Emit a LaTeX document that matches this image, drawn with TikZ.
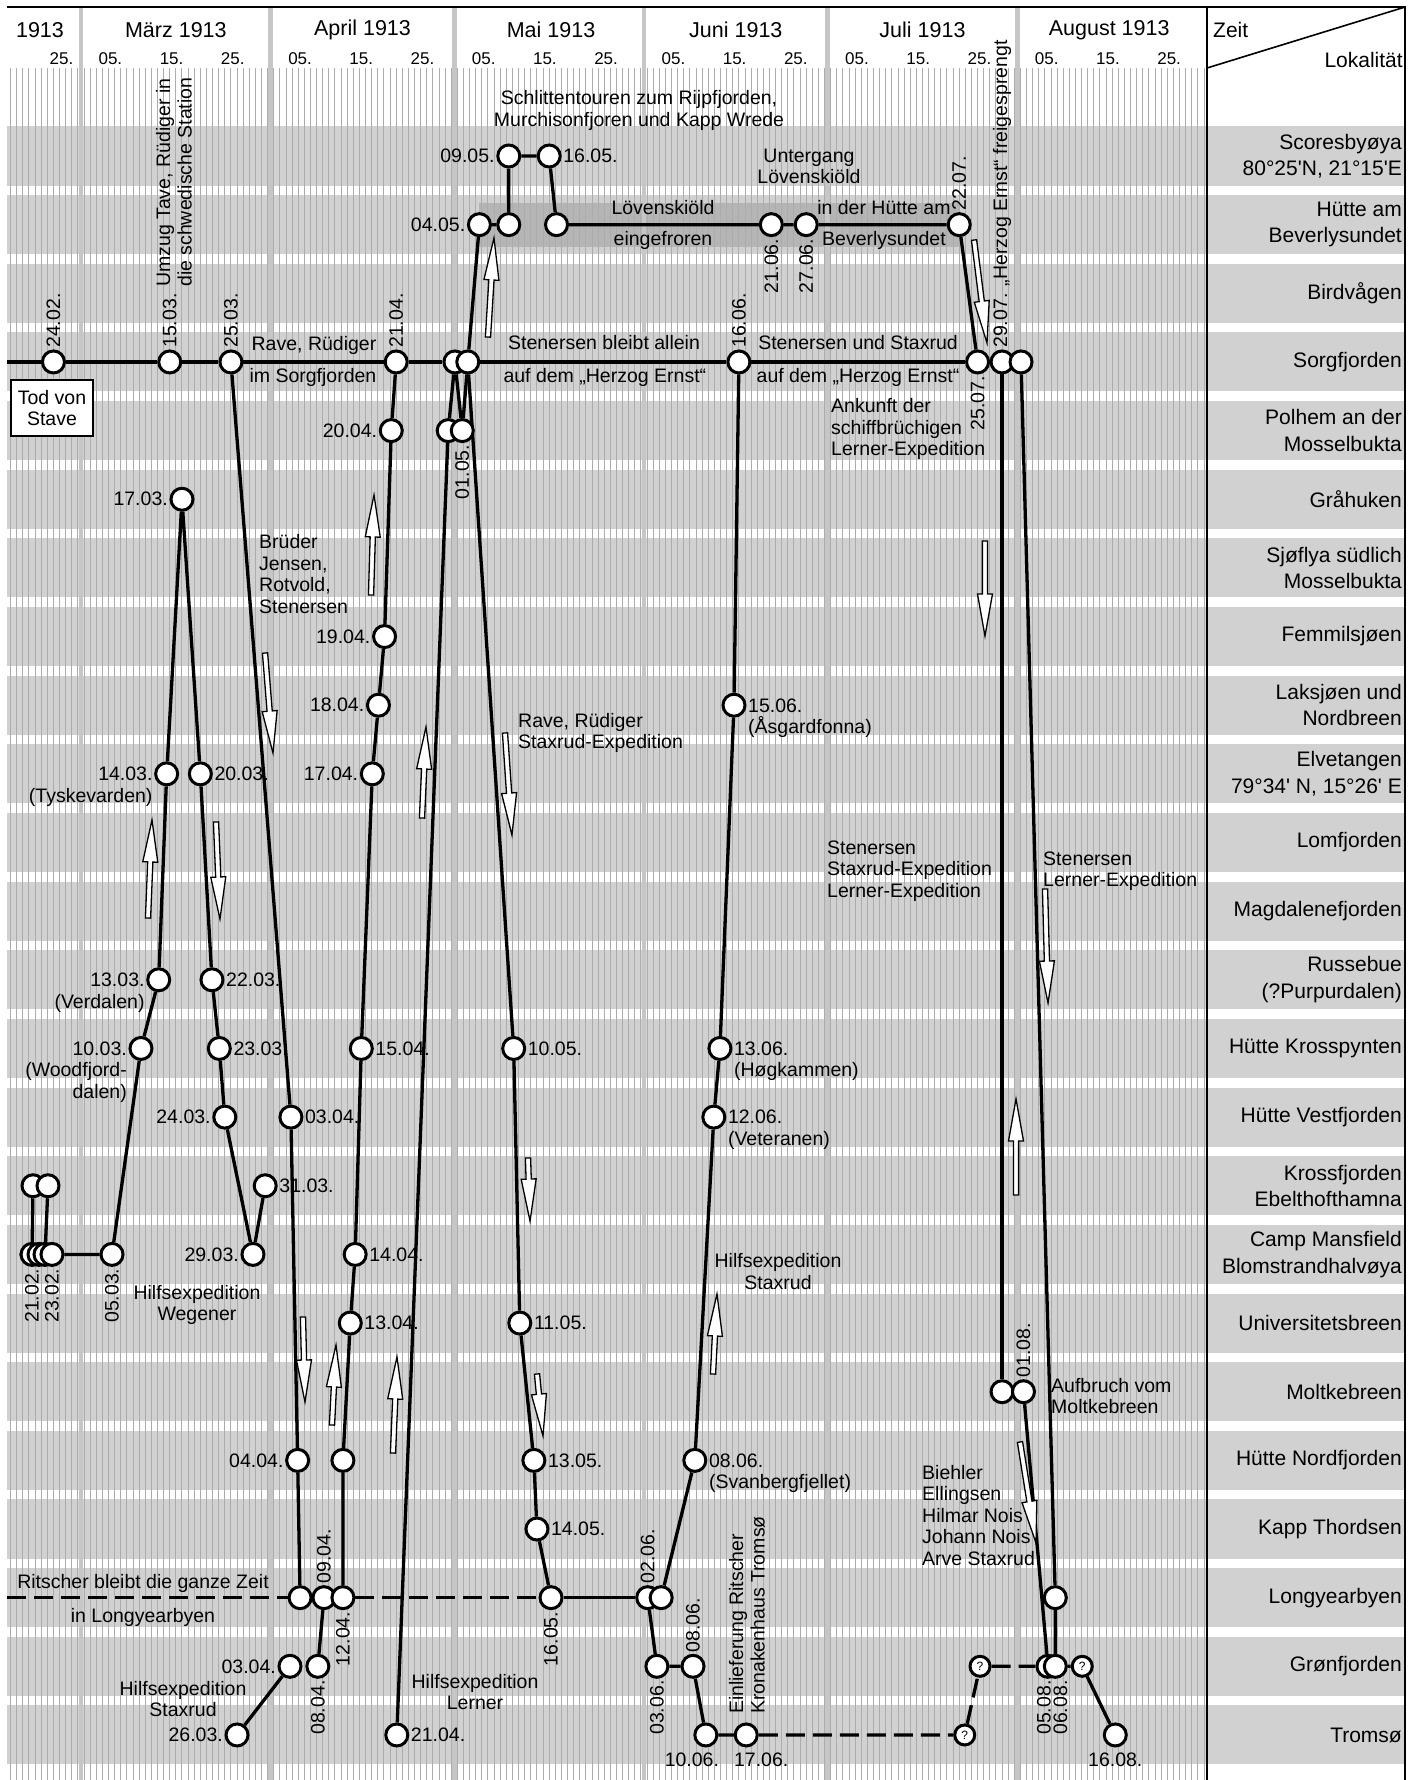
\documentclass[tikz,border=0pt]{standalone}
\usepackage{fontspec}
\setmainfont{Liberation Sans}
\newfontfamily\plainfam{Liberation Sans}
\usetikzlibrary{calc, positioning}

\newcommand\chartfont{\fontsize{19.5}{21.5}\selectfont}
\newcommand\placefont{\fontsize{21}{26.5}\selectfont}
\newcommand\monthfont{\fontsize{21.5}{24}\selectfont}
\newcommand\dayfont{\fontsize{17}{19}\selectfont}
\newcommand\qfont{\fontsize{12}{12}\selectfont}
\newcommand\straightquote{{\plainfam'}}

% date d.m sits at x = month offset + d (one unit = one day, one row = one place)
\newcommand\mFeb{-28.5}
\newcommand\mMar{-0.5}
\newcommand\mApr{30.5}
\newcommand\mMay{60.5}
\newcommand\mJun{91.5}
\newcommand\mJul{121.5}
\newcommand\mAug{152.5}

\pgfdeclarelayer{back}
\pgfdeclarelayer{routes}
\pgfsetlayers{back,routes,main}

\tikzset{
    band/.style={fill=gray!36},
    frozen/.style={fill=gray!58},
    dayline/.style={draw=gray!65, line width=1pt},
    monthline/.style={draw=gray!45, line width=4.5pt},
    frame/.style={draw=black, line width=2.4pt},
    route/.style={line width=3.3pt, line join=round},
    dashroute/.style={route, dash pattern=on 19pt off 8pt},
    stop/.style={circle, draw=black, line width=3pt, fill=white, minimum size=22pt, inner sep=0pt},
    qstop/.style={stop, minimum size=20pt, font=\qfont},
    note/.style={font=\chartfont, inner sep=1pt, align=center},
    place/.style={font=\placefont, align=right, anchor=east, inner sep=0pt},
    monthlbl/.style={font=\monthfont, inner sep=0pt},
    daylbl/.style={font=\dayfont, inner sep=0pt},
    stavebox/.style={draw=black, line width=2pt, fill=white, font=\chartfont, align=center, inner xsep=6.5pt, inner ysep=10pt},
    arrowshape/.style={draw=black, line width=1.3pt, fill=white, line join=miter},
    every label/.style={font=\chartfont, inner sep=1.5pt},
    dateleft/.style={label=left:#1},
    dateright/.style={label=right:#1},
    dateup/.style={label={[rotate=90,anchor=west]above:#1}},
    datedown/.style={label={[rotate=90,anchor=east]below:#1}},
    noteleft/.style={label={[align=right,anchor=north east,yshift=8.5pt]left:#1}},
    noteright/.style={label={[align=left,anchor=north west,yshift=8.5pt]right:#1}}
}

% hollow direction arrow from #1 (tail) to #2 (tip)
\newcommand\hollowarrow[2]{%
    \coordinate (ha-t) at #1;
    \coordinate (ha-h) at #2;
    \coordinate (ha-n) at ($(ha-h)!42pt!(ha-t)$);
    \draw[arrowshape] ($(ha-t)!2.6pt!90:(ha-h)$) -- ($(ha-n)!2.6pt!90:(ha-h)$)
        -- ($(ha-n)!7.5pt!90:(ha-h)$) -- (ha-h) -- ($(ha-n)!7.5pt!-90:(ha-h)$)
        -- ($(ha-n)!2.6pt!-90:(ha-h)$) -- ($(ha-t)!2.6pt!-90:(ha-h)$) -- cycle;
}

\begin{document}
\begin{tikzpicture}[x=6.12pt, y=-68.65pt]
    \useasboundingbox (-13.235,-2.2724) rectangle (218.137,23.6562);

    \begin{pgfonlayer}{back}
        % Rows
        \foreach \r in {0,...,23}
            \fill[band] (-12.09,\r-0.43) rectangle (216.34,\r+0.43);
        % Lövenskiöld frozen in
        \fill[frozen] (65,0.685) rectangle (143.5,1.326);
        % Days
        \foreach \k in {-12,...,183}
            \draw[dayline] (\k+0.5,-1.282) -- (\k+0.5,23.656);
        % Months
        \foreach \m in {0,31,61,92,122,153}
            \draw[monthline] (\m,-2.17) -- (\m,23.656);
        % Frame
        \draw[frame] (-12.09,-2.17) -- (216.34,-2.17) -- (216.34,23.656);
        \draw[frame, line width=1.6pt] (184,-2.17) -- (184,23.656);
        \draw[line width=1.6pt] (184,-1.282) -- (216.34,-2.17);
    \end{pgfonlayer}

    % Header
    \node[monthlbl] at (-6.7,-1.835) {1913};
    \node[monthlbl] at (15.5,-1.835) {März 1913};
    \node[monthlbl] at (46,-1.835) {April 1913};
    \node[monthlbl] at (76.8,-1.835) {Mai 1913};
    \node[monthlbl] at (107,-1.835) {Juni 1913};
    \node[monthlbl] at (137.5,-1.835) {Juli 1913};
    \node[monthlbl] at (168,-1.835) {August 1913};
    \node[daylbl] at (-3.2,-1.413) {25.};
    \foreach \m in {\mMar,\mApr,\mMay,\mJun,\mJul,\mAug}
        \foreach \d/\t in {5/05,15/15,25/25}
            \node[daylbl] at ({\m+\d+0.3},-1.413) {\t.};
    \node[place, anchor=west] at (184.97,-1.835) {Zeit};
    \node[place] at (216,-1.398) {Lokalität};

    % Places
    \node[place] at (215.85,0) {Scoresbyøya\\80°25\straightquote N, 21°15\straightquote E};
    \node[place] at (215.85,1) {Hütte am\\Beverlysundet};
    \node[place] at (215.85,2) {Birdvågen};
    \node[place] at (215.85,3) {Sorgfjorden};
    \node[place] at (215.85,4) {Polhem an der\\Mosselbukta};
    \node[place] at (215.85,5) {Gråhuken};
    \node[place] at (215.85,6) {Sjøflya südlich\\Mosselbukta};
    \node[place] at (215.85,7) {Femmilsjøen};
    \node[place] at (215.85,8) {Laksjøen und\\Nordbreen};
    \node[place] at (215.85,9) {Elvetangen\\79°34\straightquote{} N, 15°26\straightquote{} E};
    \node[place] at (215.85,10) {Lomfjorden};
    \node[place] at (215.85,11) {Magdalenefjorden};
    \node[place] at (215.85,12) {Russebue\\(?Purpurdalen)};
    \node[place] at (215.85,13) {Hütte Krosspynten};
    \node[place] at (215.85,14) {Hütte Vestfjorden};
    \node[place] at (215.85,15) {Krossfjorden\\Ebelthofthamna};
    \node[place] at (215.85,16) {Camp Mansfield\\Blomstrandhalvøya};
    \node[place] at (215.85,17) {Universitetsbreen};
    \node[place] at (215.85,18) {Moltkebreen};
    \node[place] at (215.85,19) {Hütte Nordfjorden};
    \node[place] at (215.85,20) {Kapp Thordsen};
    \node[place] at (215.85,21) {Longyearbyen};
    \node[place] at (215.85,22) {Grønfjorden};
    \node[place] at (215.85,23) {Tromsø};

    % Scoresbyøya
    \node[stop, dateleft=09.05.] (sco0905) at (69.9,0) {};
    \node[stop, dateright=16.05.] (sco1605) at ({\mMay+16},0) {};
    % Hütte am Beverlysundet
    \node[stop, dateleft=04.05.] (bev0405) at (65.1,1) {};
    \node[stop] (bev0905) at (69.9,1) {};
    \node[stop] (bev1705) at (77.7,1) {};
    \node[stop, datedown=21.06.] (bev2106) at (112.8,1) {};
    \node[stop, datedown=27.06.] (bev2706) at ({\mJun+27},1) {};
    \node[stop, dateup=22.07.] (bev2207) at ({\mJul+22},1) {};
    % Sorgfjorden
    \coordinate (sorgstart) at (-12.09,3);
    \node[stop, dateup=24.02.] (sorg2402) at ({\mFeb+24},3) {};
    \node[stop, dateup=15.03.] (sorg1503) at ({\mMar+15},3) {};
    \node[stop, dateup=25.03.] (sorg2503) at ({\mMar+25},3) {};
    \node[stop, dateup=21.04.] (sorg2104) at ({\mApr+21},3) {};
    \node[stop] (sorgA) at (61.1,3) {};
    \node[stop] (sorgB) at (63.2,3) {};
    \node[stop, dateup=16.06.] (sorg1606) at ({\mJun+16},3) {};
    \node[stop, datedown=25.07.] (sorg2507) at ({\mJul+25},3) {};
    \node[stop, dateup={29.07. „Herzog Ernst“ freigesprengt}] (sorg2907) at ({\mJul+29},3) {};
    \node[stop] (sorg0108) at (153.6,3) {};
    % Polhem
    \node[stop, dateleft=20.04.] (pol2004) at (50.7,4) {};
    \node[stop] (polA) at (60.0,4) {};
    \node[stop, datedown=01.05.] (polB) at (62.3,4) {};
    % Gråhuken
    \node[stop, dateleft=17.03.] (gra1703) at ({\mMar+17},5) {};
    % Femmilsjøen
    \node[stop, dateleft=19.04.] (fem1904) at (49.6,7) {};
    % Laksjøen
    \node[stop, dateleft=18.04.] (lak1804) at (48.6,8) {};
    \node[stop, noteright={15.06.\\(Åsgardfonna)}] (lak1506) at (106.7,8) {};
    % Elvetangen
    \node[stop, noteleft={14.03.\\(Tyskevarden)}] (elv1403) at (14.0,9) {};
    \node[stop, dateright=20.03.] (elv2003) at ({\mMar+20},9) {};
    \node[stop, dateleft=17.04.] (elv1704) at (47.6,9) {};
    % Russebue
    \node[stop, noteleft={13.03.\\(Verdalen)}] (russ1303) at (12.7,12) {};
    \node[stop, dateright=22.03.] (russ2203) at (21.4,12) {};
    % Hütte Krosspynten
    \node[stop, noteleft={10.03.\\(Woodfjord-\\dalen)}] (kros1003) at (9.8,13) {};
    \node[stop, dateright=23.03.] (kros2303) at (22.6,13) {};
    \node[stop, dateright=15.04.] (kros1504) at (45.8,13) {};
    \node[stop, dateright=10.05.] (kros1005) at (70.7,13) {};
    \node[stop, noteright={13.06.\\(Høgkammen)}] (kros1306) at (104.4,13) {};
    % Hütte Vestfjorden
    \node[stop, dateleft=24.03.] (vest2403) at (23.5,14) {};
    \node[stop, dateright=03.04.] (vest0304) at (34.3,14) {};
    \node[stop, noteright={12.06.\\(Veteranen)}] (vest1206) at (103.4,14) {};
    % Krossfjorden
    \node[stop] (ebelA) at (-7.84,15) {};
    \node[stop] (ebelB) at (-5.39,15) {};
    \node[stop, dateright=31.03.] (ebel3103) at (30.1,15) {};
    % Camp Mansfield
    \node[stop, datedown=21.02.] (mansA) at (-8.0,16) {};
    \node[stop] (mansB) at (-6.86,16) {};
    \node[stop] (mansC) at (-5.88,16) {};
    \node[stop, datedown=23.02.] (mansD) at (-4.74,16) {};
    \node[stop, datedown=05.03.] (mans0503) at (5.07,16) {};
    \node[stop, dateleft=29.03.] (mans2903) at (28.1,16) {};
    \node[stop, dateright=14.04.] (mans1404) at (44.8,16) {};
    % Universitetsbreen
    \node[stop, dateright=13.04.] (univ1304) at (44.0,17) {};
    \node[stop, dateright=11.05.] (univ1105) at (71.7,17) {};
    % Moltkebreen
    \node[stop] (moltA) at ({\mJul+29},18) {};
    \node[stop, dateup=01.08.] (moltB) at (154.0,18) {};
    % Hütte Nordfjorden
    \node[stop, dateleft=04.04.] (nord0404) at (35.4,19) {};
    \node[stop] (nord1204) at (42.8,19) {};
    \node[stop, dateright=13.05.] (nord1305) at (74.0,19) {};
    \node[stop, noteright={08.06.\\(Svanbergfjellet)}] (nord0806) at (100.3,19) {};
    % Kapp Thordsen
    \node[stop, dateright=14.05.] (kapp1405) at ({\mMay+14},20) {};
    % Longyearbyen
    \coordinate (longstart) at (-12.09,21);
    \node[stop] (long0504) at (35.8,21) {};
    \node[stop, dateup=09.04.] (long0904) at (39.7,21) {};
    \node[stop, datedown=12.04.] (long1204) at (42.8,21) {};
    \node[stop, datedown=16.05.] (long1605) at (76.8,21) {};
    \node[stop, dateup=02.06.] (longA) at (92.6,21) {};
    \node[stop] (longB) at (94.8,21) {};
    \node[stop] (long0608) at (159.2,21) {};
    % Grønfjorden
    \node[stop, dateleft=03.04.] (gron0304) at (34.15,22) {};
    \node[stop, datedown=08.04.] (gron0804) at (38.7,22) {};
    \node[stop, datedown=03.06.] (gron0306) at (94.1,22) {};
    \node[stop, dateup=08.06.] (gron0806) at (100.0,22) {};
    \node[qstop] (gronQa) at (146.9,22) {?};
    \node[stop, label={[xshift=-4pt,rotate=90,anchor=east]below:05.08.}] (gron0508) at (158.0,22) {};
    \node[stop, label={[xshift=5pt,rotate=90,anchor=east]below:06.08.}] (gron0608) at (159.2,22) {};
    \node[qstop] (gronQb) at (163.6,22) {?};
    % Tromsø
    \node[stop, dateleft=26.03.] (trom2603) at ({\mMar+26},23) {};
    \node[stop, dateright=21.04.] (trom2104) at (51.6,23) {};
    \node[stop, label={[xshift=-14pt,yshift=-4pt]below:10.06.}] (trom1006) at (102.1,23) {};
    \node[stop, label={[xshift=15pt,yshift=-4pt]below:17.06.}] (trom1706) at (108.7,23) {};
    \node[qstop] (tromQ) at (144.4,23) {?};
    \node[stop, label={[yshift=-4pt]below:16.08.}] (trom1608) at (169.0,23) {};

    \begin{pgfonlayer}{routes}
        % Sorgfjorden and Longyearbyen
        \draw[route] (sorgstart) -- (sorg2402) -- (sorg1503) -- (sorg2503) -- (sorg2104) -- (sorgA) -- (sorgB)
            -- (sorg1606) -- (sorg2507) -- (sorg2907) -- (sorg0108);
        \draw[dashroute] (longstart) -- (long0504);
        \draw[dashroute] (long1204) -- (long1605);
        \draw[route] (long1605) -- (longA);
        % Hilfsexpedition Wegener
        \draw[route] (ebelA) -- (mansA);
        \draw[route] (ebelB) -- (mansC);
        \draw[route] (mansA) -- (mansB) -- (mansC) -- (mansD) -- (mans0503) -- (kros1003) -- (russ1303) -- (elv1403)
            -- (gra1703) -- (elv2003) -- (russ2203) -- (kros2303) -- (vest2403) -- (mans2903) -- (ebel3103);
        % Rave, Rüdiger south
        \draw[route] (sorg2503) -- (vest0304) -- (nord0404) -- (long0504);
        % Hilfsexpedition Staxrud
        \draw[route] (trom2603) -- (gron0304);
        \draw[route] (gron0804) -- (long0904);
        % Brüder Jensen, Rotvold, Stenersen
        \draw[route] (long1204) -- (nord1204) -- (univ1304) -- (mans1404) -- (kros1504) -- (elv1704) -- (lak1804)
            -- (fem1904) -- (pol2004) -- (sorg2104);
        % Hilfsexpedition Lerner
        \draw[route] (trom2104) -- (polA) -- (sorgA) -- (polB) -- (sorgB) -- (bev0405) -- (bev0905) -- (sco0905)
            -- (sco1605) -- (bev1705) -- (bev2106) -- (bev2706) -- (bev2207) -- (sorg2507);
        % Rave, Rüdiger, Staxrud-Expedition
        \draw[route] (sorgB) -- (kros1005) -- (univ1105) -- (nord1305) -- (kapp1405) -- (long1605);
        % Staxrud north
        \draw[route] (longB) -- (nord0806) -- (vest1206) -- (kros1306) -- (lak1506) -- (sorg1606);
        % Ritscher to Tromsø
        \draw[route] (longA) -- (gron0306) -- (gron0806) -- (trom1006);
        \draw[dashroute] (trom1006) -- (trom1706) -- (tromQ) -- (gronQa) -- (gron0508);
        % Herzog Ernst and Lerner-Expedition south
        \draw[route] (sorg2907) -- (moltA);
        \draw[route] (moltB) -- (gron0508);
        \draw[route] (sorg0108) -- (long0608) -- (gron0608) -- (gronQb) -- (trom1608);
    \end{pgfonlayer}

    % Notes
    \node[note] at (91.18,-0.663) {Schlittentouren zum Rijpfjorden,\\Murchisonfjoren und Kapp Wrede};
    \node[note] at (118.95,0.153) {Untergang\\Lövenskiöld};
    \node[note] at (95.1,0.757) {Lövenskiöld};
    \node[note] at (95.1,1.224) {eingefroren};
    \node[note] at (131.2,0.757) {in der Hütte am};
    \node[note] at (131.2,1.224) {Beverlysundet};
    \node[note, rotate=90, anchor=west, align=left] at (15.2,1.923) {Umzug Tave, Rüdiger in\\die schwedische Station};
    \node[note] at (38.07,2.753) {Rave, Rüdiger};
    \node[note] at (37.9,3.219) {im Sorgfjorden};
    \node[note] at (85.46,2.724) {Stenersen bleibt allein};
    \node[note] at (85.6,3.219) {auf dem „Herzog Ernst“};
    \node[note] at (126.96,2.724) {Stenersen und Staxrud};
    \node[note] at (126.96,3.219) {auf dem „Herzog Ernst“};
    \node[stavebox] (stave) at (-4.74,3.671) {Tod von\\Stave};
    \node[note, align=left, anchor=west] at (122.39,3.977) {Ankunft der\\schiffbrüchigen\\Lerner-Expedition};
    \node[note, align=left, anchor=west] at (28.92,6.089) {Brüder\\Jensen,\\Rotvold,\\Stenersen};
    \node[note, align=left, anchor=west] at (71.24,8.405) {Rave, Rüdiger\\Staxrud-Expedition};
    \node[note, align=left, anchor=west] at (121.73,10.415) {Stenersen\\Staxrud-Expedition\\Lerner-Expedition};
    \node[note, align=left, anchor=west] at (157.03,10.42) {Stenersen\\Lerner-Expedition};
    \node[note] at (18.95,16.737) {Hilfsexpedition\\Wegener};
    \node[note] at (113.89,16.249) {Hilfsexpedition\\Staxrud};
    \node[note, align=left, anchor=west] at (158.33,18.063) {Aufbruch vom\\Moltkebreen};
    \node[note, align=left, anchor=west] at (137.25,19.803) {Biehler\\Ellingsen\\Hilmar Nois\\Johann Nois\\Arve Staxrud};
    \node[note] at (10.13,20.787) {Ritscher bleibt die ganze Zeit};
    \node[note] at (10.13,21.282) {in Longyearbyen};
    \node[note] at (16.67,22.477) {Hilfsexpedition\\Staxrud};
    \node[note] at (64.38,22.375) {Hilfsexpedition\\Lerner};
    \node[note, rotate=90, anchor=west, align=left] at (108.82,22.71) {Einlieferung Ritscher\\Kronakenhaus Tromsø};

    % Direction arrows
    \hollowarrow{(10.95,11.10)}{(11.60,9.672)}
    \hollowarrow{(22.06,9.701)}{(22.71,11.114)}
    \hollowarrow{(30.07,7.24)}{(31.37,8.696)}
    \hollowarrow{(47.39,6.395)}{(47.88,4.938)}
    \hollowarrow{(55.72,9.643)}{(56.37,8.318)}
    \hollowarrow{(66.5,2.637)}{(67.48,1.194)}
    \hollowarrow{(69.28,8.405)}{(70.42,9.891)}
    \hollowarrow{(73.04,14.596)}{(73.37,15.514)}
    \hollowarrow{(74.51,17.742)}{(75.49,18.645)}
    \hollowarrow{(103.27,17.742)}{(103.92,16.577)}
    \hollowarrow{(36.27,16.912)}{(36.6,18.15)}
    \hollowarrow{(41.01,18.485)}{(41.67,17.32)}
    \hollowarrow{(50.98,18.893)}{(51.63,17.495)}
    \hollowarrow{(145.92,1.224)}{(148.04,2.724)}
    \hollowarrow{(147.71,5.608)}{(147.71,6.992)}
    \hollowarrow{(152.78,15.135)}{(152.78,13.736)}
    \hollowarrow{(157.52,10.677)}{(158.01,12.338)}
    \hollowarrow{(153.43,18.733)}{(156.05,20.204)}

\end{tikzpicture}
\end{document}
